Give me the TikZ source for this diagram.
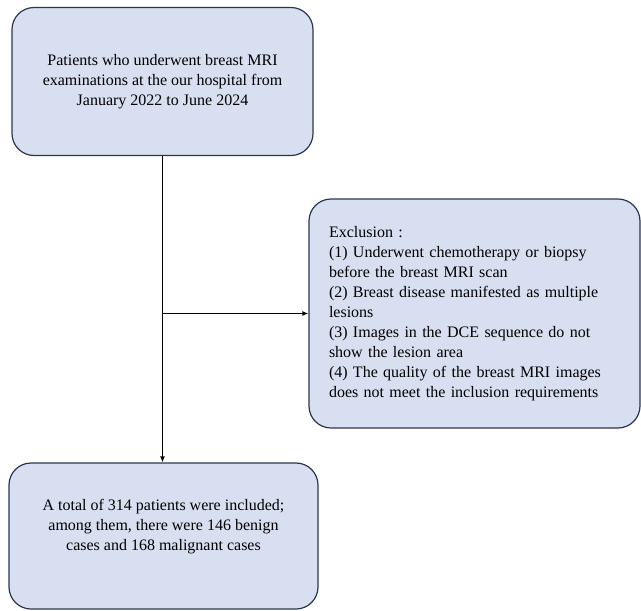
\documentclass[tikz,border=0pt]{standalone}
\usepackage{fontspec}
\setmainfont{Liberation Serif}
\usetikzlibrary{arrows.meta}
\definecolor{boxfill}{HTML}{D7DFF0}
\definecolor{boxline}{HTML}{2A3550}

\begin{document}
\begin{tikzpicture}[x=1pt,y=-1pt]
  \tikzset{box/.style={draw=boxline,fill=boxfill,rounded corners=22pt,line width=1.2pt,
    font=\fontsize{16}{20}\selectfont},
    link/.style={line width=1.5pt,-{Latex[length=6pt,width=5pt]}}}
  \useasboundingbox (0,0) rectangle (641,611);
  \node[box,minimum width=301pt,minimum height=148pt,align=center] (pat) at (162.5,81.5)
    {Patients who underwent breast MRI\\examinations at the our hospital from\\January 2022 to June 2024};
  \node[box,minimum width=331pt,minimum height=229pt,text width=291pt,inner sep=20pt,align=left] (excl) at (474.5,313.5)
    {Exclusion :\\(1) Underwent chemotherapy or biopsy\\before the breast MRI scan\\(2) Breast disease manifested as multiple\\lesions\\(3) Images in the DCE sequence do not\\show the lesion area\\(4) The quality of the breast MRI images\\does not meet the inclusion requirements};
  \node[box,minimum width=309pt,minimum height=146pt,align=center,text depth=22pt] (incl) at (163.5,536)
    {A total of 314 patients were included;\\among them, there were 146 benign\\cases and 168 malignant cases};
  \coordinate (j) at (pat.south |- excl.west);
  \draw[link] (pat.south) -- (pat.south |- incl.north);
  \draw[link] (j) -- (excl.west);
\end{tikzpicture}
\end{document}
